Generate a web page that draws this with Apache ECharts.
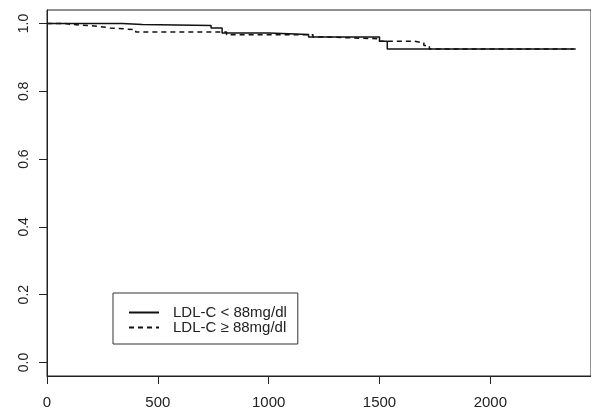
<!DOCTYPE html>
<html>
<head>
<meta charset="utf-8">
<script src="https://cdn.jsdelivr.net/npm/echarts@6/dist/echarts.min.js"></script>
<style>
html,body{margin:0;padding:0;background:#fff;}
#c{width:591px;height:414px;}
</style>
</head>
<body>
<div id="c"></div>
<script>
// Kaplan-Meier step data: [day, survival]
const seriesNames = ['LDL-C < 88mg/dl', 'LDL-C \u2265 88mg/dl'];
const lowLDL = [[0,1.0],[340,0.997],[430,0.994],[740,0.987],[790,0.972],[1000,0.968],[1180,0.96],[1500,0.948],[1535,0.925],[2385,0.925]];
const highLDL = [[0,1.0],[80,0.997],[120,0.992],[230,0.987],[285,0.982],[400,0.975],[810,0.967],[1200,0.96],[1270,0.955],[1500,0.948],[1655,0.943],[1700,0.935],[1725,0.925],[2375,0.925]];
const xTicks = [0,500,1000,1500,2000];
const yTicks = [0,0.2,0.4,0.6,0.8,1.0];

const chart = echarts.init(document.getElementById('c'), null, {renderer:'canvas'});
const font = 'Liberation Sans, Arial, Helvetica, sans-serif';
chart.setOption({
  animation:false,
  backgroundColor:'#ffffff',
  grid:{left:47, top:10, bottom:38, right:-2, show:true, borderColor:'#222', borderWidth:1, backgroundColor:'transparent'},
  xAxis:{
    type:'value', min:0, max:2454,
    axisLine:{show:true, onZero:false, lineStyle:{color:'#222', width:1}},
    axisTick:{show:true, length:8, customValues:xTicks, lineStyle:{color:'#222'}},
    axisLabel:{customValues:xTicks, margin:19, fontSize:15, color:'#222', fontFamily:font,
      formatter:v=>String(v)},
    splitLine:{show:false}
  },
  yAxis:{
    type:'value', min:-0.04, max:1.04,
    axisLine:{show:true, onZero:false, lineStyle:{color:'#222', width:1}},
    axisTick:{show:true, length:8, customValues:yTicks, lineStyle:{color:'#222'}},
    axisLabel:{customValues:yTicks, rotate:90, margin:16, fontSize:14, color:'#222', fontFamily:font,
      formatter:v=>v.toFixed(1)},
    splitLine:{show:false}
  },
  legend:{
    orient:'vertical', left:113, top:293,
    padding:[12,11,9,15], itemGap:0, itemWidth:30, itemHeight:12,
    borderColor:'#333', borderWidth:1, borderRadius:0,
    itemStyle:{opacity:0},
    textStyle:{fontSize:15, lineHeight:13, color:'#222', fontFamily:font, padding:[0,0,0,9]},
    data:seriesNames
  },
  series:[
    {name:seriesNames[0], type:'line', step:'end', data:lowLDL, showSymbol:false, symbol:'none',
     lineStyle:{color:'#111', width:1.5, type:'solid'}, itemStyle:{color:'#111'}},
    {name:seriesNames[1], type:'line', step:'end', data:highLDL, showSymbol:false, symbol:'none',
     lineStyle:{color:'#111', width:1.5, type:[5,4]}, itemStyle:{color:'#111'}}
  ]
});
</script>
</body>
</html>
